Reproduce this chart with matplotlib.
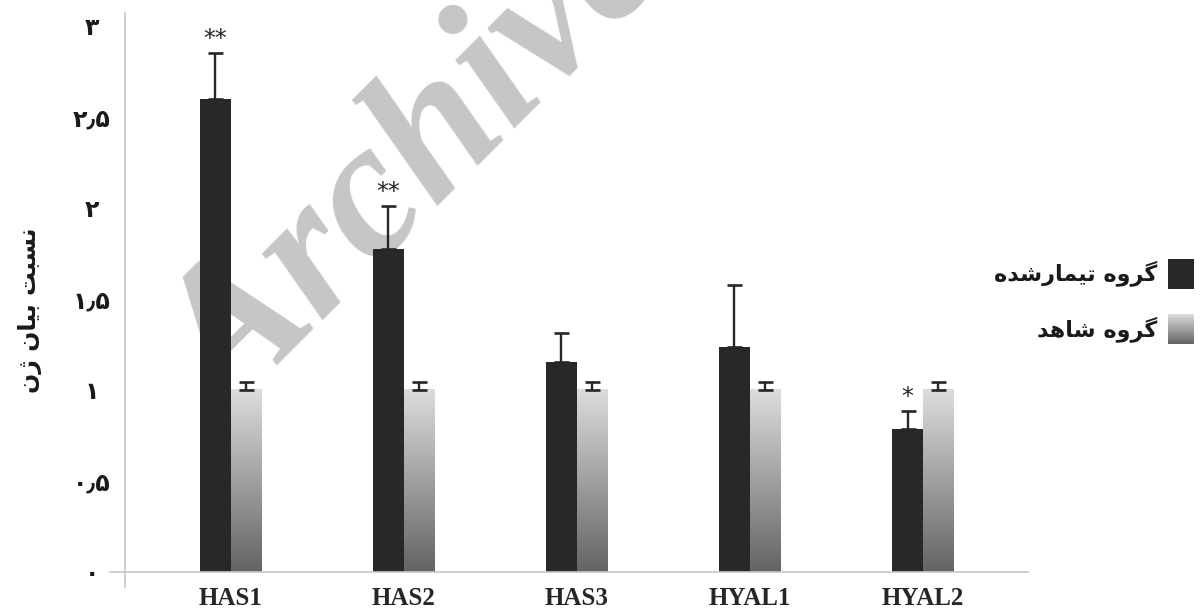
import numpy as np
import matplotlib
matplotlib.use('Agg')
import matplotlib.pyplot as plt

# data
genes = ['HAS1', 'HAS2', 'HAS3', 'HYAL1', 'HYAL2']
treated = [2.60, 1.775, 1.155, 1.235, 0.785]
treated_err = [0.25, 0.235, 0.16, 0.34, 0.10]
control = [1.0, 1.0, 1.0, 1.0, 1.0]
control_err = [0.045, 0.045, 0.045, 0.045, 0.045]
stars = ['**', '**', '', '', '*']
yticks = [0, 0.5, 1, 1.5, 2, 2.5, 3]
ytick_labels = ['۰', '۰٫۵', '۱', '۱٫۵', '۲', '۲٫۵', '۳']
legend_labels = ['گروه تیمارشده', 'گروه شاهد']
ylabel = 'نسبت بیان ژن'

# minimal arabic shaping (matplotlib does no shaping / bidi)
FORMS = {
    'ا': ('\uFE8D', '\uFE8E', None, None),
    'ب': ('\uFE8F', '\uFE90', '\uFE91', '\uFE92'),
    'ت': ('\uFE95', '\uFE96', '\uFE97', '\uFE98'),
    'د': ('\uFEA9', '\uFEAA', None, None),
    'ر': ('\uFEAD', '\uFEAE', None, None),
    'ژ': ('\uFB8A', '\uFB8B', None, None),
    'س': ('\uFEB1', '\uFEB2', '\uFEB3', '\uFEB4'),
    'ش': ('\uFEB5', '\uFEB6', '\uFEB7', '\uFEB8'),
    'م': ('\uFEE1', '\uFEE2', '\uFEE3', '\uFEE4'),
    'ن': ('\uFEE5', '\uFEE6', '\uFEE7', '\uFEE8'),
    'ه': ('\uFEE9', '\uFEEA', '\uFEEB', '\uFEEC'),
    'و': ('\uFEED', '\uFEEE', None, None),
    'گ': ('\uFB92', '\uFB93', '\uFB94', '\uFB95'),
    'ی': ('\uFBFC', '\uFBFD', '\uFBFE', '\uFBFF'),
}


def shape(s):
    out = []
    for i, c in enumerate(s):
        if c not in FORMS:
            out.append(c)
            continue
        f = FORMS[c]
        prev = s[i - 1] if i > 0 else ''
        nxt = s[i + 1] if i + 1 < len(s) else ''
        p = prev in FORMS and FORMS[prev][2] is not None
        n = nxt in FORMS and f[2] is not None
        if p and n:
            out.append(f[3])
        elif p:
            out.append(f[1])
        elif n:
            out.append(f[2])
        else:
            out.append(f[0])
    return ''.join(out)[::-1]


fa = ['DejaVu Sans']

fig = plt.figure(figsize=(12.02, 6.15), dpi=100)
W, H = 1202, 615
ax = fig.add_axes([125 / W, 1 - 572 / H, (1028 - 125) / W, (572 - 13) / H])
ax.patch.set_visible(False)

# watermark behind the bars
fig.text(232 / W, 1 - 422 / H, 'Archive', family='Liberation Serif',
         weight='bold', style='italic', fontsize=140, color='#c6c6c6',
         rotation=45, rotation_mode='anchor', ha='left', va='baseline', zorder=-1)

x = np.arange(len(genes))
w = 0.178
b1 = ax.bar(x - w / 2, treated, w, color='#282828', zorder=2)
b2 = ax.bar(x + w / 2, control, w, color='none', zorder=2)

grad = np.linspace(0.865, 0.39, 256).reshape(-1, 1)
for p in b2:
    x0, y0, bw, bh = p.get_x(), p.get_y(), p.get_width(), p.get_height()
    ax.imshow(grad, cmap='gray', vmin=0, vmax=1, aspect='auto', origin='upper',
              extent=[x0, x0 + bw, y0, y0 + bh], zorder=2, interpolation='bilinear')

ekw = dict(fmt='none', ecolor='#262626', elinewidth=1.7, capsize=5.4, capthick=1.9, zorder=3)
ax.errorbar(x - w / 2, treated, yerr=[np.zeros(5), treated_err], **ekw)
ax.errorbar(x + w / 2, control, yerr=[np.zeros(5), control_err], **ekw)

for xi, v, e, s in zip(x, treated, treated_err, stars):
    if s:
        ax.annotate(s, (xi - w / 2, v + e), xytext=(0, 10), textcoords='offset points',
                    ha='center', va='center', fontsize=17, color='#262626')

ax.set_xlim(-0.611, 4.607)
ax.set_ylim(0, 3.07)
ax.set_xticks(x)
ax.set_xticklabels(genes, family='Liberation Serif', weight='bold', fontsize=18, color='#262626')
ax.set_yticks(yticks)
ax.set_yticklabels(ytick_labels, family=fa, weight='bold', fontsize=17, ha='center', color='#1a1a1a')
ax.tick_params(axis='x', length=0, pad=11)
ax.tick_params(axis='y', length=0, pad=24)

for s in ['top', 'right']:
    ax.spines[s].set_visible(False)
for s in ['left', 'bottom']:
    ax.spines[s].set_color('#c8c8c8')
    ax.spines[s].set_linewidth(1.2)
ax.plot([-15 / 903, 0], [0, 0], transform=ax.transAxes, color='#c8c8c8', lw=1.2, clip_on=False)
ax.plot([0, 0], [0, -15 / 559], transform=ax.transAxes, color='#c8c8c8', lw=1.2, clip_on=False)

fig.text(30 / W, 1 - 310 / H, shape(ylabel), family=fa, weight='bold', fontsize=17,
         rotation=90, ha='center', va='center', color='#1a1a1a')

# legend (handle on the right, rtl text)
lax1 = fig.add_axes([1168 / W, 1 - 289 / H, 26 / W, 30 / H])
lax1.set_facecolor('#282828')
lax2 = fig.add_axes([1168 / W, 1 - 344 / H, 26 / W, 30 / H])
lax2.imshow(grad, cmap='gray', vmin=0, vmax=1, aspect='auto', interpolation='bilinear')
for a in (lax1, lax2):
    a.set_xticks([])
    a.set_yticks([])
    for sp in a.spines.values():
        sp.set_visible(False)
fig.text(1157 / W, 1 - 273 / H, shape(legend_labels[0]), family=fa, weight='bold',
         fontsize=16, ha='right', va='center', color='#1a1a1a')
fig.text(1157 / W, 1 - 329 / H, shape(legend_labels[1]), family=fa, weight='bold',
         fontsize=16, ha='right', va='center', color='#1a1a1a')

fig.savefig('out.png', dpi=100)
